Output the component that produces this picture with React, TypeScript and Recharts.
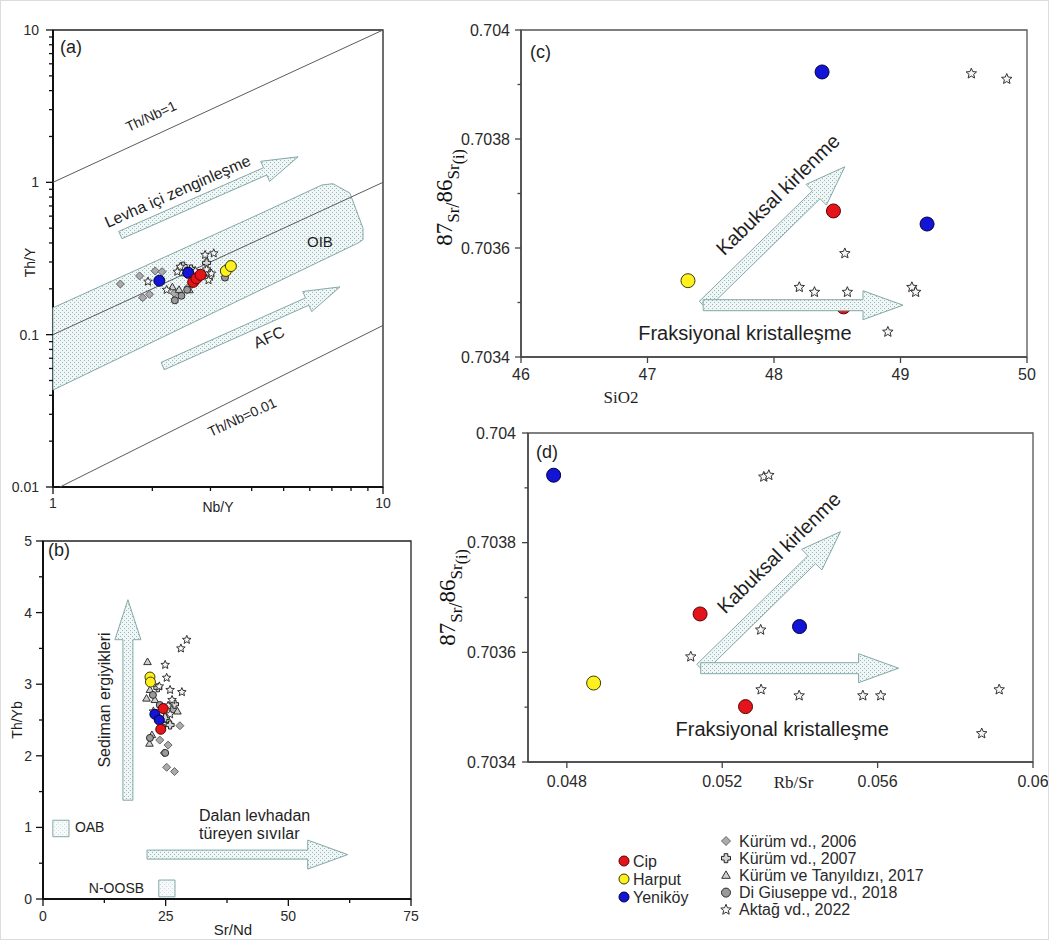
import React from "react";
import { ScatterChart, Scatter, XAxis, YAxis, ReferenceArea } from "recharts";

const SANS = "'Liberation Sans', Arial, Helvetica, sans-serif";
const SERIF = "'Liberation Serif', 'Times New Roman', serif";
const INK = "#1e1e1e";
const FIELD = "url(#stipple)";
const FIELD_EDGE = "#84a8a8";

// ---------- (a) Th/Y vs Nb/Y ----------
const aXTicks = [1, 2, 3, 4, 5, 6, 7, 8, 9, 10];
const aXLabels = [1, 10];
const aYTicks = [
  0.01, 0.02, 0.03, 0.04, 0.05, 0.06, 0.07, 0.08, 0.09,
  0.1, 0.2, 0.3, 0.4, 0.5, 0.6, 0.7, 0.8, 0.9,
  1, 2, 3, 4, 5, 6, 7, 8, 9, 10,
];
const aYLabels = [0.01, 0.1, 1, 10];

const aLineNb1 = [{ x: 1, y: 1 }, { x: 10, y: 10 }];
const aLineNb01 = [{ x: 1, y: 0.1 }, { x: 10, y: 1 }];
const aLineNb001 = [{ x: 1.05, y: 0.01 }, { x: 10, y: 0.115 }];
const aOIB = [
  { x: 1, y: 0.15 }, { x: 4.3, y: 0.63 }, { x: 6.53, y: 0.96 }, { x: 7.05, y: 0.98 },
  { x: 7.94, y: 0.85 }, { x: 8.7, y: 0.5 }, { x: 8.7, y: 0.42 }, { x: 8.4, y: 0.4 },
  { x: 1, y: 0.0433 },
];
const aArrowLevha = [{ x: 1.6, y: 0.451 }, { x: 5.53, y: 1.47 }];
const aArrowAFC = [{ x: 2.15, y: 0.0622 }, { x: 7.41, y: 0.206 }];
const aNoteNb1 = [{ x: 1.98, y: 2.72 }];
const aNoteNb001 = [{ x: 3.74, y: 0.0288 }];
const aNoteOIB = [{ x: 6.44, y: 0.408 }];

const aCip = [{ x: 2.66, y: 0.222 }, { x: 2.72, y: 0.234 }, { x: 2.8, y: 0.247 }];
const aHarput = [{ x: 3.34, y: 0.262 }, { x: 3.46, y: 0.282 }];
const aYenikoy = [{ x: 2.1, y: 0.226 }, { x: 2.57, y: 0.255 }];
const aKurum2006 = [
  { x: 1.6, y: 0.215 }, { x: 1.83, y: 0.243 }, { x: 1.87, y: 0.175 }, { x: 1.96, y: 0.184 },
  { x: 2.04, y: 0.262 }, { x: 2.14, y: 0.259 }, { x: 2.33, y: 0.187 }, { x: 2.57, y: 0.205 },
];
const aKurum2007 = [{ x: 2.48, y: 0.282 }, { x: 2.92, y: 0.296 }, { x: 2.96, y: 0.253 }, { x: 2.62, y: 0.27 }];
const aKurumTany = [
  { x: 2.41, y: 0.197 }, { x: 2.51, y: 0.253 }, { x: 2.99, y: 0.259 }, { x: 2.59, y: 0.196 }, { x: 2.3, y: 0.205 },
];
const aGiuseppe = [{ x: 2.34, y: 0.168 }, { x: 2.55, y: 0.197 }, { x: 3.32, y: 0.237 }, { x: 2.45, y: 0.18 }];
const aAktag = [
  { x: 1.94, y: 0.223 }, { x: 2.89, y: 0.334 }, { x: 3.07, y: 0.342 }, { x: 2.92, y: 0.268 },
  { x: 2.99, y: 0.24 }, { x: 2.43, y: 0.279 }, { x: 2.38, y: 0.259 }, { x: 2.21, y: 0.197 },
  { x: 2.96, y: 0.228 }, { x: 2.7, y: 0.262 }, { x: 3.02, y: 0.252 },
];

// ---------- (b) Th/Yb vs Sr/Nd ----------
const bXTicks = [0, 12.5, 25, 37.5, 50, 62.5, 75];
const bXLabels = [0, 25, 50, 75];
const bYTicks = [0, 0.5, 1, 1.5, 2, 2.5, 3, 3.5, 4, 4.5, 5];
const bYLabels = [0, 1, 2, 3, 4, 5];

const bArrowSed = [{ x: 17.3, y: 1.38 }, { x: 17.3, y: 4.18 }];
const bArrowSlab = [{ x: 21.2, y: 0.62 }, { x: 62.1, y: 0.62 }];
const bNoteOAB = [{ x: 6.5, y: 1.0 }];
const bNoteNOOSB = [{ x: 20.6, y: 0.15 }];
const bNoteSlab1 = [{ x: 31.8, y: 1.17 }];
const bNoteSlab2 = [{ x: 31.8, y: 0.92 }];

const bCip = [{ x: 24.5, y: 2.66 }, { x: 24.0, y: 2.37 }];
const bHarput = [{ x: 21.8, y: 3.1 }, { x: 21.9, y: 3.03 }];
const bYenikoy = [{ x: 22.8, y: 2.58 }, { x: 23.7, y: 2.5 }];
const bKurum2006 = [
  { x: 27.9, y: 2.42 }, { x: 25.5, y: 2.15 }, { x: 24.7, y: 2.04 }, { x: 25.2, y: 1.84 },
  { x: 26.8, y: 1.78 }, { x: 23.8, y: 2.22 }, { x: 26.5, y: 2.65 },
];
const bKurum2007 = [{ x: 23.4, y: 2.95 }, { x: 24.9, y: 2.53 }, { x: 25.9, y: 2.43 }, { x: 26.8, y: 2.72 }];
const bKurumTany = [
  { x: 21.3, y: 3.31 }, { x: 21.1, y: 2.8 }, { x: 21.7, y: 2.17 }, { x: 27.4, y: 2.62 },
  { x: 21.8, y: 2.92 }, { x: 22.8, y: 2.78 }, { x: 25.5, y: 2.5 }, { x: 22.2, y: 2.29 },
];
const bGiuseppe = [{ x: 24.9, y: 2.04 }, { x: 22.4, y: 2.85 }, { x: 23.8, y: 2.71 }, { x: 21.8, y: 2.25 }, { x: 24.3, y: 2.4 }];
const bAktag = [
  { x: 29.3, y: 3.62 }, { x: 28.1, y: 3.5 }, { x: 24.9, y: 3.27 }, { x: 25.2, y: 3.09 },
  { x: 28.3, y: 2.89 }, { x: 23.7, y: 2.97 }, { x: 25.9, y: 2.92 }, { x: 26.3, y: 2.78 },
  { x: 25.5, y: 2.7 }, { x: 25.9, y: 2.58 }, { x: 22.5, y: 2.62 },
];

// ---------- (c) 87Sr/86Sr vs SiO2 ----------
const srTicks = [0.7034, 0.7035, 0.7036, 0.7037, 0.7038, 0.7039, 0.704];
const srLabels = [0.7034, 0.7036, 0.7038, 0.704];
const cXTicks = [46, 47, 48, 49, 50];

const cArrowCrust = [{ x: 47.44, y: 0.703495 }, { x: 48.56, y: 0.703749 }];
const cArrowFrac = [{ x: 47.44, y: 0.703495 }, { x: 49.02, y: 0.703495 }];
const cNoteFrac = [{ x: 47.77, y: 0.703444 }];

const cCip = [{ x: 48.47, y: 0.703668 }, { x: 48.55, y: 0.703492 }];
const cHarput = [{ x: 47.32, y: 0.70354 }];
const cYenikoy = [{ x: 48.38, y: 0.703923 }, { x: 49.21, y: 0.703644 }];
const cAktag = [
  { x: 49.56, y: 0.70392 }, { x: 49.84, y: 0.70391 }, { x: 48.56, y: 0.70359 },
  { x: 48.2, y: 0.703528 }, { x: 48.32, y: 0.703519 }, { x: 48.58, y: 0.703519 },
  { x: 49.09, y: 0.703528 }, { x: 49.12, y: 0.703519 }, { x: 48.9, y: 0.703446 },
];

// ---------- (d) 87Sr/86Sr vs Rb/Sr ----------
const dXTicks = [0.048, 0.052, 0.056, 0.06];

const dArrowCrust = [{ x: 0.051445, y: 0.703571 }, { x: 0.055042, y: 0.70382 }];
const dArrowFrac = [{ x: 0.051445, y: 0.703571 }, { x: 0.05654, y: 0.703571 }];
const dNoteFrac = [{ x: 0.053544, y: 0.70346 }];

const dCip = [{ x: 0.05143, y: 0.70367 }, { x: 0.0526, y: 0.703501 }];
const dHarput = [{ x: 0.04869, y: 0.703544 }];
const dYenikoy = [{ x: 0.04766, y: 0.703923 }, { x: 0.05399, y: 0.703647 }];
const dAktag = [
  { x: 0.05307, y: 0.70392 }, { x: 0.0532, y: 0.703923 }, { x: 0.05299, y: 0.703641 },
  { x: 0.05119, y: 0.703592 }, { x: 0.053, y: 0.703532 }, { x: 0.05398, y: 0.703521 },
  { x: 0.05562, y: 0.703521 }, { x: 0.05608, y: 0.703521 }, { x: 0.05913, y: 0.703532 },
  { x: 0.05868, y: 0.703452 },
];

// ---------- legend ----------
const groupNames = ["Cip", "Harput", "Yeniköy"];
const sourceNames = [
  "Kürüm vd., 2006",
  "Kürüm vd., 2007",
  "Kürüm ve Tanyıldızı, 2017",
  "Di Giuseppe vd., 2018",
  "Aktağ vd., 2022",
];

type Kind = "circle" | "diamond" | "plus" | "triangle" | "star";
type Look = { kind: Kind; fill: string; stroke: string };

const CIP: Look = { kind: "circle", fill: "#e3151b", stroke: "#5a0000" };
const HARPUT: Look = { kind: "circle", fill: "#fff01f", stroke: "#3d3d00" };
const YENIKOY: Look = { kind: "circle", fill: "#1414d6", stroke: "#00003a" };
const K2006: Look = { kind: "diamond", fill: "#ababab", stroke: "#666" };
const K2007: Look = { kind: "plus", fill: "#d4d4d4", stroke: "#222" };
const KT2017: Look = { kind: "triangle", fill: "#d0d0d0", stroke: "#333" };
const DG2018: Look = { kind: "circle", fill: "#9a9a9a", stroke: "#2a2a2a" };
const AKTAG: Look = { kind: "star", fill: "#f6f6f6", stroke: "#333" };

function starPath(cx: number, cy: number, R: number) {
  let d = "";
  for (let i = 0; i < 10; i++) {
    const rad = i % 2 === 0 ? R : R * 0.45;
    const a = -Math.PI / 2 + (i * Math.PI) / 5;
    d += (i === 0 ? "M" : "L") + (cx + rad * Math.cos(a)).toFixed(2) + "," + (cy + rad * Math.sin(a)).toFixed(2);
  }
  return d + "Z";
}

function Mark({ look, cx, cy, s }: { look: Look; cx: number; cy: number; s: number }) {
  const { kind, fill, stroke } = look;
  const common = { fill, stroke, strokeWidth: 1 };
  if (kind === "circle") return <circle cx={cx} cy={cy} r={s} {...common} />;
  if (kind === "diamond")
    return <path d={`M${cx},${cy - s}L${cx + s},${cy}L${cx},${cy + s}L${cx - s},${cy}Z`} {...common} />;
  if (kind === "triangle")
    return <path d={`M${cx},${cy - s}L${cx + s * 0.95},${cy + s * 0.65}L${cx - s * 0.95},${cy + s * 0.65}Z`} {...common} />;
  if (kind === "plus") {
    const a = s, b = s * 0.4;
    return (
      <path
        d={`M${cx - b},${cy - a}L${cx + b},${cy - a}L${cx + b},${cy - b}L${cx + a},${cy - b}L${cx + a},${cy + b}L${cx + b},${cy + b}L${cx + b},${cy + a}L${cx - b},${cy + a}L${cx - b},${cy + b}L${cx - a},${cy + b}L${cx - a},${cy - b}L${cx - b},${cy - b}Z`}
        {...common}
      />
    );
  }
  return <path d={starPath(cx, cy, s)} {...common} />;
}

const hidden = () => <g />;

const marks = (key: string, data: any[], look: Look, s: number) => (
  <Scatter
    key={key}
    data={data}
    isAnimationActive={false}
    shape={(p: any) => <Mark look={look} cx={p.cx} cy={p.cy} s={s} />}
  />
);

const segment = (key: string, data: any[]) => (
  <Scatter key={key} data={data} isAnimationActive={false} shape={hidden} line={{ stroke: "#5a5a5a", strokeWidth: 1 }} />
);

const field = (key: string, data: any[]) => (
  <Scatter
    key={key}
    data={data}
    isAnimationActive={false}
    shape={hidden}
    line={(lp: any) => (
      <path
        d={"M" + lp.points.map((q: any) => `${q.x.toFixed(1)},${q.y.toFixed(1)}`).join("L") + "Z"}
        fill={FIELD}
        stroke={FIELD_EDGE}
        strokeWidth={1}
      />
    )}
  />
);

type ArrowOpts = { w: number; hw: number; hl: number; text?: string; at?: number; off?: number; size?: number };

function FatArrow({ pts, o }: { pts: any[]; o: ArrowOpts }) {
  if (!pts || pts.length < 2) return <g />;
  const [a, b] = pts;
  const dx = b.x - a.x, dy = b.y - a.y;
  const len = Math.hypot(dx, dy) || 1;
  const ux = dx / len, uy = dy / len;
  const nx = uy, ny = -ux;
  const bx = b.x - ux * o.hl, by = b.y - uy * o.hl;
  const P = (x: number, y: number) => `${x.toFixed(1)},${y.toFixed(1)}`;
  const d =
    `M${P(a.x + nx * o.w, a.y + ny * o.w)}L${P(bx + nx * o.w, by + ny * o.w)}L${P(bx + nx * o.hw, by + ny * o.hw)}` +
    `L${P(b.x, b.y)}L${P(bx - nx * o.hw, by - ny * o.hw)}L${P(bx - nx * o.w, by - ny * o.w)}L${P(a.x - nx * o.w, a.y - ny * o.w)}Z`;
  const ang = (Math.atan2(dy, dx) * 180) / Math.PI;
  const at = o.at ?? 0.5, off = o.off ?? 0;
  const tx = a.x + ux * len * at + nx * off, ty = a.y + uy * len * at + ny * off;
  return (
    <g>
      <path d={d} fill={FIELD} stroke={FIELD_EDGE} strokeWidth={1} />
      {o.text && (
        <text
          transform={`translate(${tx.toFixed(1)},${ty.toFixed(1)}) rotate(${ang.toFixed(2)})`}
          textAnchor="middle"
          dominantBaseline="central"
          fontSize={o.size ?? 16}
          fontFamily={SANS}
          fill={INK}
        >
          {o.text}
        </text>
      )}
    </g>
  );
}

const arrow = (key: string, data: any[], o: ArrowOpts) => (
  <Scatter key={key} data={data} isAnimationActive={false} shape={hidden} line={(lp: any) => <FatArrow pts={lp.points} o={o} />} />
);

const note = (key: string, data: any[], text: string, size: number, angle = 0, anchor = "middle") => (
  <Scatter
    key={key}
    data={data}
    isAnimationActive={false}
    shape={(p: any) => (
      <text
        x={p.cx}
        y={p.cy}
        transform={angle ? `rotate(${angle} ${p.cx} ${p.cy})` : undefined}
        textAnchor={anchor as any}
        dominantBaseline="central"
        fontSize={size}
        fontFamily={SANS}
        fill={INK}
      >
        {text}
      </text>
    )}
  />
);

type TickOpts = { major: number; minor: number; gap: number; size: number; color: string };
const isIn = (list: number[], v: number) => list.some((l) => Math.abs(l - v) < 1e-9);

const xTick = (labels: number[], o: TickOpts) => (p: any) => {
  const v = p.payload.value as number;
  const lab = isIn(labels, v);
  return (
    <g>
      <line x1={p.x} x2={p.x} y1={p.y} y2={p.y + (lab ? o.major : o.minor)} stroke={o.color} strokeWidth={1.3} />
      {lab && (
        <text x={p.x} y={p.y + o.gap} textAnchor="middle" fontSize={o.size} fontFamily={SANS} fill="#2a2a2a">
          {String(v)}
        </text>
      )}
    </g>
  );
};

const yTick = (labels: number[], o: TickOpts) => (p: any) => {
  const v = p.payload.value as number;
  const lab = isIn(labels, v);
  return (
    <g>
      <line x1={p.x} x2={p.x - (lab ? o.major : o.minor)} y1={p.y} y2={p.y} stroke={o.color} strokeWidth={1.3} />
      {lab && (
        <text x={p.x - o.gap} y={p.y} textAnchor="end" dominantBaseline="central" fontSize={o.size} fontFamily={SANS} fill="#2a2a2a">
          {String(v)}
        </text>
      )}
    </g>
  );
};

const vbOf = (p: any) => p?.viewBox ?? { x: 0, y: 0, width: 0, height: 0 };

const xTitle = (text: string, dx: number, dy: number, size: number, family: string) => (p: any) => {
  const vb = vbOf(p);
  return (
    <text x={vb.x + vb.width / 2 + dx} y={vb.y + dy} textAnchor="middle" dominantBaseline="central" fontSize={size} fontFamily={family} fill={INK}>
      {text}
    </text>
  );
};

const yTitle = (text: string, dx: number, dy: number, size: number) => (p: any) => {
  const vb = vbOf(p);
  const x = vb.x + dx, y = vb.y + vb.height / 2 + dy;
  return (
    <text x={x} y={y} transform={`rotate(-90 ${x} ${y})`} textAnchor="middle" dominantBaseline="central" fontSize={size} fontFamily={SANS} fill={INK}>
      {text}
    </text>
  );
};

const srTitle = (dx: number, dy: number) => (p: any) => {
  const vb = vbOf(p);
  const x = vb.x + dx, y = vb.y + vb.height / 2 + dy;
  return (
    <text x={x} y={y} transform={`rotate(-90 ${x} ${y})`} textAnchor="middle" fontFamily={SERIF} fill="#111">
      <tspan fontSize={23} dy={-7}>87</tspan>
      <tspan fontSize={17} dy={7}>Sr</tspan>
      <tspan fontSize={19}>/</tspan>
      <tspan fontSize={23} dy={-7}>86</tspan>
      <tspan fontSize={17} dy={7}>Sr</tspan>
      <tspan fontSize={16} dy={5}>(i)</tspan>
    </text>
  );
};

const darkTicks: TickOpts = { major: 7, minor: 4, gap: 21, size: 14, color: "#111" };

function PanelA() {
  return (
    <ScatterChart width={400} height={530} margin={{ top: 30, right: 17, bottom: 13, left: 0 }}>
      <XAxis
        type="number" dataKey="x" scale="log" domain={[1, 10]} ticks={aXTicks} interval={0}
        tickLine={false} tickSize={0} tickMargin={0} height={30}
        tick={xTick(aXLabels, darkTicks)} axisLine={{ stroke: "#111", strokeWidth: 2 }}
        label={xTitle("Nb/Y", 0, 20, 14, SANS)}
      />
      <YAxis
        type="number" dataKey="y" scale="log" domain={[0.01, 10]} ticks={aYTicks} interval={0}
        tickLine={false} tickSize={0} tickMargin={0} width={53}
        tick={yTick(aYLabels, { ...darkTicks, gap: 14 })} axisLine={{ stroke: "#111", strokeWidth: 2 }}
        label={yTitle("Th/Y", 30, 4, 14)}
      />
      <ReferenceArea x1={1} x2={10} y1={0.01} y2={10} fill="none" stroke="#222" strokeWidth={1.3} />
      {field("oib", aOIB)}
      {segment("l1", aLineNb1)}
      {segment("l01", aLineNb01)}
      {segment("l001", aLineNb001)}
      {arrow("levha", aArrowLevha, { w: 4, hw: 11, hl: 36, text: "Levha içi zenginleşme", at: 0.36, off: 17, size: 16 })}
      {arrow("afc", aArrowAFC, { w: 4, hw: 11, hl: 36, text: "AFC", at: 0.56, off: -17, size: 16 })}
      {note("n1", aNoteNb1, "Th/Nb=1", 14, -24.8)}
      {note("n001", aNoteNb001, "Th/Nb=0.01", 14, -24.8)}
      {note("oibt", aNoteOIB, "OIB", 15)}
      {marks("k06", aKurum2006, K2006, 4)}
      {marks("kt", aKurumTany, KT2017, 4)}
      {marks("dg", aGiuseppe, DG2018, 3.5)}
      {marks("k07", aKurum2007, K2007, 4)}
      {marks("ak", aAktag, AKTAG, 4.5)}
      {marks("ye", aYenikoy, YENIKOY, 5.5)}
      {marks("ci", aCip, CIP, 5.5)}
      {marks("ha", aHarput, HARPUT, 5.5)}
    </ScatterChart>
  );
}

function PanelB() {
  return (
    <ScatterChart width={430} height={440} margin={{ top: 41, right: 19, bottom: 11, left: 0 }}>
      <XAxis
        type="number" dataKey="x" domain={[0, 75]} ticks={bXTicks} interval={0}
        tickLine={false} tickSize={0} tickMargin={0} height={30}
        tick={xTick(bXLabels, { ...darkTicks, gap: 22 })} axisLine={{ stroke: "#111", strokeWidth: 2 }}
        label={xTitle("Sr/Nd", 6, 30, 15, SANS)}
      />
      <YAxis
        type="number" dataKey="y" domain={[0, 5]} ticks={bYTicks} interval={0}
        tickLine={false} tickSize={0} tickMargin={0} width={43}
        tick={yTick(bYLabels, { ...darkTicks, gap: 11 })} axisLine={{ stroke: "#111", strokeWidth: 2 }}
        label={yTitle("Th/Yb", 17, 0, 14)}
      />
      <ReferenceArea x1={0} x2={75} y1={0} y2={5} fill="none" stroke="#222" strokeWidth={1.3} />
      <ReferenceArea x1={2.0} x2={5.3} y1={0.87} y2={1.1} fill={FIELD} stroke={FIELD_EDGE} />
      <ReferenceArea x1={23.6} x2={26.9} y1={0.03} y2={0.265} fill={FIELD} stroke={FIELD_EDGE} />
      {arrow("sed", bArrowSed, { w: 5, hw: 13, hl: 40, text: "Sediman ergiyikleri", at: 0.5, off: 23, size: 16 })}
      {arrow("slab", bArrowSlab, { w: 4.5, hw: 14.5, hl: 40 })}
      {note("oab", bNoteOAB, "OAB", 14, 0, "start")}
      {note("noosb", bNoteNOOSB, "N-OOSB", 14, 0, "end")}
      {note("s1", bNoteSlab1, "Dalan levhadan", 16, 0, "start")}
      {note("s2", bNoteSlab2, "türeyen sıvılar", 16, 0, "start")}
      {marks("k06", bKurum2006, K2006, 4)}
      {marks("kt", bKurumTany, KT2017, 4)}
      {marks("dg", bGiuseppe, DG2018, 3.5)}
      {marks("k07", bKurum2007, K2007, 4)}
      {marks("ak", bAktag, AKTAG, 4.5)}
      {marks("ha", bHarput, HARPUT, 5)}
      {marks("ye", bYenikoy, YENIKOY, 5)}
      {marks("ci", bCip, CIP, 5)}
    </ScatterChart>
  );
}

const greyTicks: TickOpts = { major: 6, minor: 3.5, gap: 23, size: 16, color: "#444" };

function PanelC() {
  return (
    <ScatterChart width={629} height={420} margin={{ top: 30, right: 22, bottom: 28, left: 0 }}>
      <XAxis
        type="number" dataKey="x" domain={[46, 50]} ticks={cXTicks} interval={0}
        tickLine={false} tickSize={0} tickMargin={0} height={35}
        tick={xTick(cXTicks, greyTicks)} axisLine={{ stroke: "#444", strokeWidth: 1.5 }}
        label={xTitle("SiO2", -153, 40, 17, SERIF)}
      />
      <YAxis
        type="number" dataKey="y" domain={[0.7034, 0.704]} ticks={srTicks} interval={0}
        tickLine={false} tickSize={0} tickMargin={0} width={101}
        tick={yTick(srLabels, { ...greyTicks, gap: 11 })} axisLine={{ stroke: "#444", strokeWidth: 1.5 }}
        label={srTitle(39, 4)}
      />
      <ReferenceArea x1={46} x2={50} y1={0.7034} y2={0.704} fill="none" stroke="#555" strokeWidth={1.3} />
      {marks("ak", cAktag, AKTAG, 5.5)}
      {marks("ha", cHarput, HARPUT, 7)}
      {marks("ye", cYenikoy, YENIKOY, 7)}
      {marks("ci", cCip, CIP, 7)}
      {arrow("crust", cArrowCrust, { w: 5.5, hw: 14.5, hl: 40, text: "Kabuksal kirlenme", at: 0.66, off: 27, size: 20 })}
      {arrow("frac", cArrowFrac, { w: 5.5, hw: 14.5, hl: 40 })}
      {note("fr", cNoteFrac, "Fraksiyonal kristalleşme", 20)}
    </ScatterChart>
  );
}

function PanelD() {
  return (
    <ScatterChart width={629} height={420} margin={{ top: 13, right: 16, bottom: 43, left: 0 }}>
      <XAxis
        type="number" dataKey="x" domain={[0.047, 0.06]} ticks={dXTicks} interval={0}
        tickLine={false} tickSize={0} tickMargin={0} height={35}
        tick={xTick(dXTicks, { ...greyTicks, gap: 25 })} axisLine={{ stroke: "#444", strokeWidth: 1.5 }}
        label={xTitle("Rb/Sr", 13, 20, 17, SERIF)}
      />
      <YAxis
        type="number" dataKey="y" domain={[0.7034, 0.704]} ticks={srTicks} interval={0}
        tickLine={false} tickSize={0} tickMargin={0} width={108}
        tick={yTick(srLabels, { ...greyTicks, gap: 12 })} axisLine={{ stroke: "#444", strokeWidth: 1.5 }}
        label={srTitle(42, 0)}
      />
      <ReferenceArea x1={0.047} x2={0.06} y1={0.7034} y2={0.704} fill="none" stroke="#555" strokeWidth={1.3} />
      {marks("ak", dAktag, AKTAG, 5.5)}
      {marks("ha", dHarput, HARPUT, 7)}
      {marks("ye", dYenikoy, YENIKOY, 7)}
      {marks("ci", dCip, CIP, 7)}
      {arrow("crust", dArrowCrust, { w: 5.5, hw: 14.5, hl: 40, text: "Kabuksal kirlenme", at: 0.7, off: 28, size: 20 })}
      {arrow("frac", dArrowFrac, { w: 5.5, hw: 14.5, hl: 40 })}
      {note("fr", dNoteFrac, "Fraksiyonal kristalleşme", 20)}
    </ScatterChart>
  );
}

function Overlay() {
  const groupLooks = [CIP, HARPUT, YENIKOY];
  const sourceLooks = [K2006, K2007, KT2017, DG2018, AKTAG];
  const letter = { fontFamily: SANS, fontSize: 18, fill: INK };
  const txt = { fontFamily: SANS, fontSize: 16, fill: "#2a2a2a" };
  return (
    <svg width={1049} height={940} style={{ position: "absolute", left: 0, top: 0, pointerEvents: "none" }}>
      <rect x={0.5} y={0.5} width={1048} height={939} fill="none" stroke="#dcdcdc" />
      <text x={60} y={53} {...letter}>(a)</text>
      <text x={48} y={556} {...letter}>(b)</text>
      <text x={530} y={58} {...letter}>(c)</text>
      <text x={536} y={458} {...letter}>(d)</text>
      {groupNames.map((name, i) => (
        <g key={name}>
          <Mark look={groupLooks[i]} cx={624} cy={861 + i * 18} s={5} />
          <text x={633} y={861 + i * 18} dominantBaseline="central" {...txt}>{name}</text>
        </g>
      ))}
      {sourceNames.map((name, i) => (
        <g key={name}>
          <Mark look={sourceLooks[i]} cx={726} cy={841 + i * 17.2} s={sourceLooks[i].kind === "star" ? 5.5 : 4.5} />
          <text x={739} y={841 + i * 17.2} dominantBaseline="central" {...txt}>{name}</text>
        </g>
      ))}
    </svg>
  );
}

export default function App() {
  return (
    <div style={{ position: "absolute", left: 0, top: 0, width: 1049, height: 940, background: "#fff", overflow: "hidden" }}>
      <svg width={0} height={0} style={{ position: "absolute" }}>
        <defs>
          <pattern id="stipple" width={4} height={4} patternUnits="userSpaceOnUse">
            <rect width={4} height={4} fill="#eef6f6" />
            <rect x={0} y={0} width={1} height={1} fill="#9db6b6" />
            <rect x={2} y={2} width={1} height={1} fill="#9db6b6" />
          </pattern>
        </defs>
      </svg>
      <div style={{ position: "absolute", left: 0, top: 0 }}><PanelA /></div>
      <div style={{ position: "absolute", left: 0, top: 500 }}><PanelB /></div>
      <div style={{ position: "absolute", left: 420, top: 0 }}><PanelC /></div>
      <div style={{ position: "absolute", left: 420, top: 420 }}><PanelD /></div>
      <Overlay />
    </div>
  );
}
